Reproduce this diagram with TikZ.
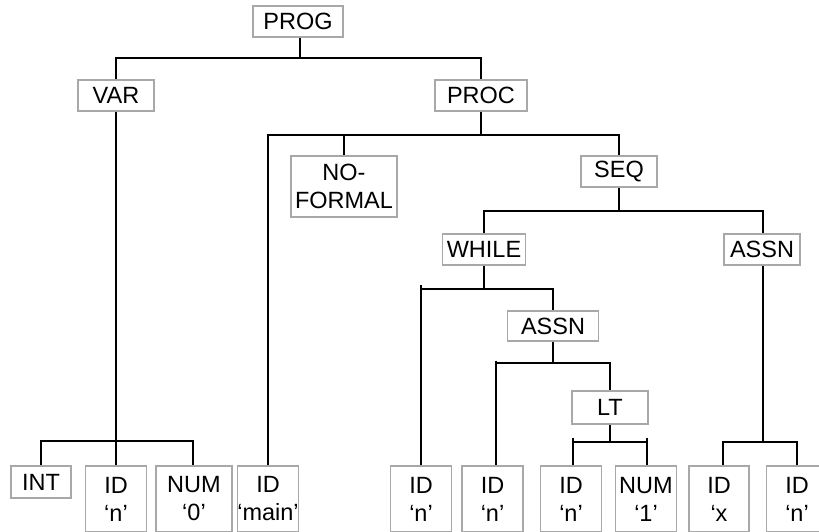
\documentclass[tikz,border=0pt]{standalone}
\usepackage{fontspec}
\setmainfont{Liberation Sans}
\definecolor{boxgray}{HTML}{A8A8A8}
\begin{document}
\begin{tikzpicture}[x=1pt,y=-1pt,
  box/.style={draw=boxgray, line width=1.4pt, fill=white, inner sep=0pt, align=center,
    font=\fontsize{23.5}{28}\selectfont, minimum height=31pt},
  leaf/.style={box, minimum height=66pt, minimum width=61pt},
  edge/.style={line width=2pt, black}]
\useasboundingbox (0,0) rectangle (819,532);
% internal nodes
\node[box, minimum width=90pt] (prog) at (298,21.5) {PROG};
\node[box, minimum width=76pt] (var) at (116,95.5) {VAR};
\node[box, minimum width=92pt] (proc) at (481,95.5) {PROC};
\node[box, minimum width=106pt, minimum height=61pt] (noformal) at (344,186.5) {NO-\\FORMAL};
\node[box, minimum width=76pt] (seq) at (619,171.5) {SEQ};
\node[box, minimum width=83pt] (while) at (484,249.5) {WHILE};
\node[box, minimum width=76pt] (assnb) at (762,249.5) {ASSN};
\node[box, minimum width=91pt, minimum height=30pt] (assna) at (553,326) {ASSN};
\node[box, minimum width=76pt, minimum height=33pt] (lt) at (610,407.5) {LT};
% leaves
\node[box, minimum width=60pt, minimum height=32pt] (int) at (41,482) {INT};
\node[leaf] (idn) at (116,499) {ID\\‘n’};
\node[leaf, minimum width=76pt] (num0) at (194,499) {NUM\\‘0’};
\node[leaf] (idmain) at (268,499) {ID\\‘main’};
\node[leaf] (idA) at (421,499) {ID\\‘n’};
\node[leaf] (idB) at (492.5,499) {ID\\‘n’};
\node[leaf] (idC) at (571,499) {ID\\‘n’};
\node[leaf] (num1) at (646,499) {NUM\\‘1’};
\node[leaf, minimum width=60pt] (idx) at (719,499) {ID\\‘x};
\node[leaf] (idD) at (797,499) {ID\\‘n’};
% connectors
\draw[edge] ([xshift=2pt]prog.south) -- ++(0,20) coordinate (j1);
\draw[edge] (var.north) -- (var.north |- j1) -- (proc.north |- j1) -- (proc.north);
\draw[edge] (var.south) -- (idn.north);
\draw[edge] (int.north) -- (int.north |- 0,441) -- ([xshift=-1pt]num0.north |- 0,441) -- ([xshift=-1pt]num0.north);
\draw[edge] (proc.south) -- ++(0,23) coordinate (j3);
\draw[edge] (idmain.north) -- (idmain.north |- j3) -- (seq.north |- j3) -- (seq.north);
\draw[edge] (noformal.north) -- (noformal.north |- j3);
\draw[edge] (seq.south) -- ++(0,23) coordinate (j4);
\draw[edge] (while.north) -- (while.north |- j4) -- ([xshift=1pt]assnb.north |- j4) -- ([xshift=1pt]assnb.north);
\draw[edge] (while.south) -- ++(0,23) coordinate (j5);
\draw[edge] ([yshift=4pt]idA.north |- j5) -- (idA.north);
\draw[edge] (idA.north |- j5) -- (assna.north |- j5) -- (assna.north);
\draw[edge] (assna.south) -- ++(0,21) coordinate (j6);
\draw[edge] ([xshift=3.5pt,yshift=2pt]idB.north |- j6) -- ([xshift=3.5pt]idB.north);
\draw[edge] ([xshift=3.5pt]idB.north |- j6) -- (lt.north |- j6) -- (lt.north);
\draw[edge] (lt.south) -- ++(0,17) coordinate (j7);
\draw[edge] ([xshift=2pt,yshift=4pt]idC.north |- j7) -- ([xshift=2pt]idC.north);
\draw[edge] ([xshift=1pt,yshift=4pt]num1.north |- j7) -- ([xshift=1pt]num1.north);
\draw[edge] ([xshift=2pt]idC.north |- j7) -- ([xshift=1pt]num1.north |- j7);
\draw[edge] ([xshift=1pt]assnb.south) -- ([xshift=1pt]assnb.south |- 0,442) coordinate (j8);
\draw[edge] ([xshift=4pt]idx.north) -- ([xshift=4pt]idx.north |- j8) -- (idD.north |- j8) -- (idD.north);
\end{tikzpicture}
\end{document}
